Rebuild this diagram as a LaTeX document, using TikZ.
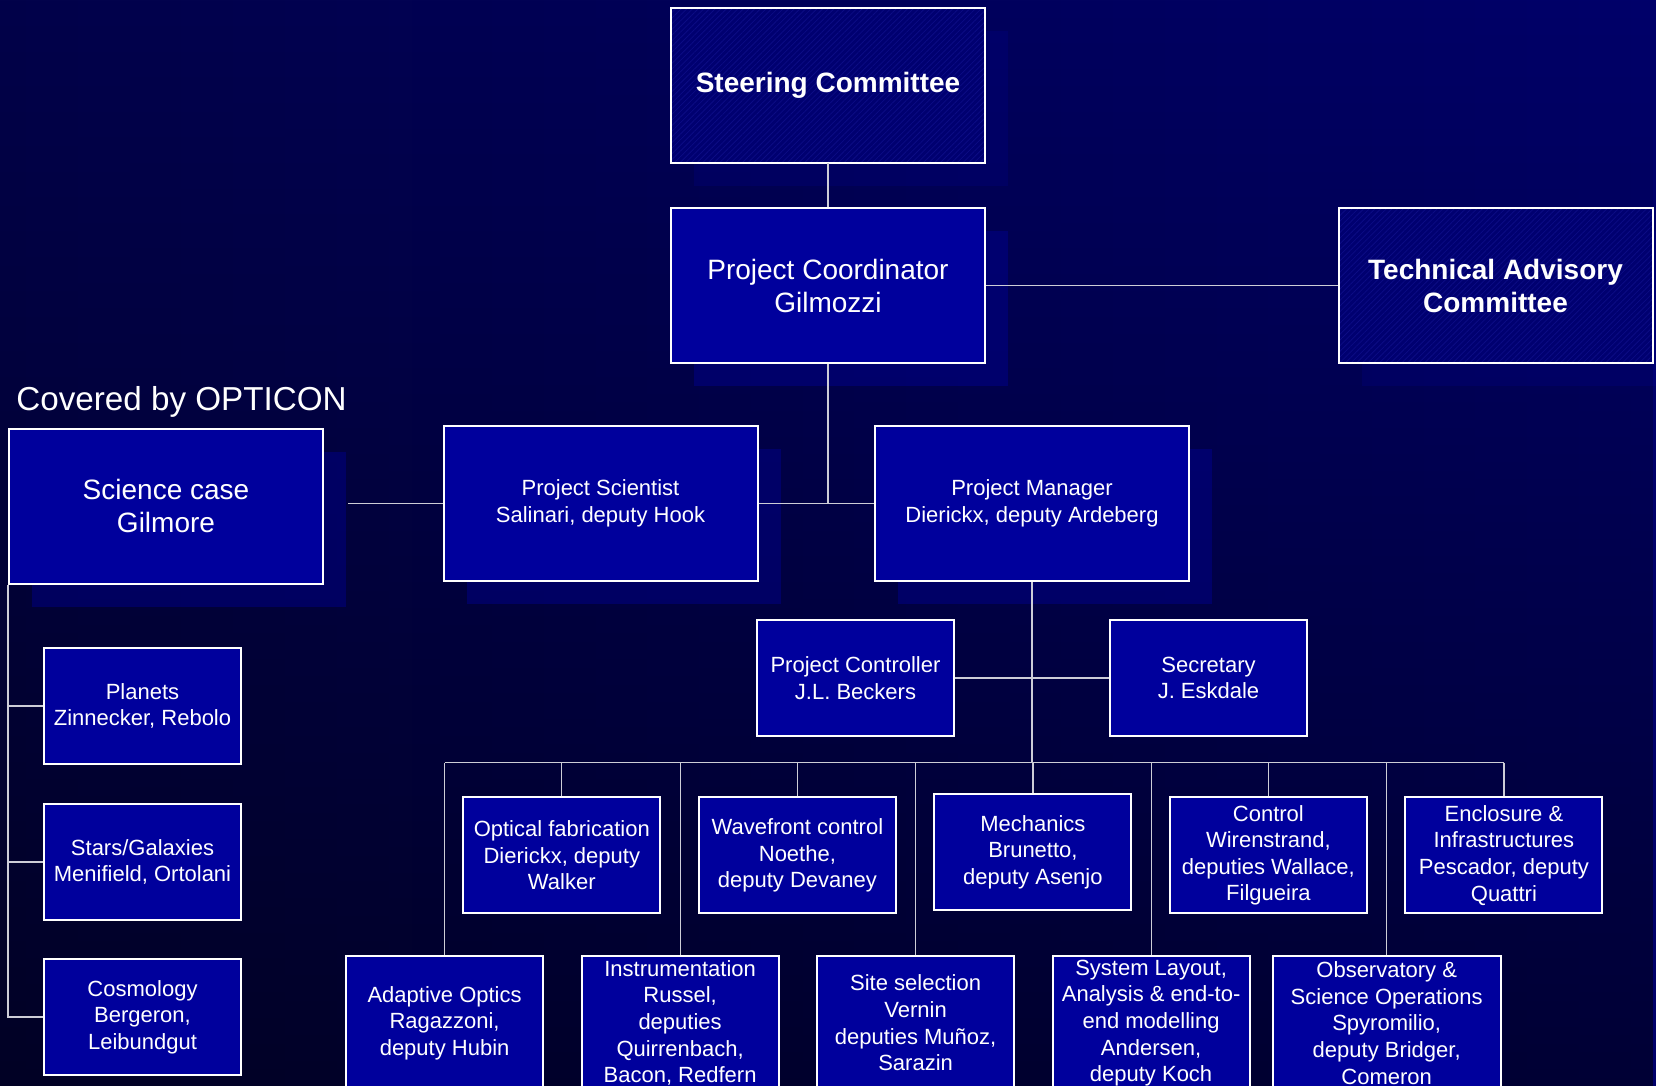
\documentclass[tikz,border=0pt]{standalone}
\usepackage{fontspec}
\setmainfont{Liberation Sans}
\usetikzlibrary{shadows,patterns.meta,fadings}

\definecolor{bgleft}{RGB}{2,2,74}
\definecolor{bgright}{RGB}{0,0,106}
\definecolor{boxblue}{RGB}{0,0,156}
\definecolor{comblue}{RGB}{0,0,112}
\definecolor{hatchblue}{RGB}{12,12,132}
\definecolor{linegray}{RGB}{205,205,215}

\tikzset{
  box/.style={draw=white, line width=1pt, fill=boxblue, text=white, align=center,
    inner sep=0pt, font=\fontsize{11}{13.3}\selectfont},
  bigbox/.style={box, minimum width=157pt, minimum height=77.5pt},
  smallbox/.style={box, minimum width=98.5pt, minimum height=58pt},
  lowbox/.style={box, minimum width=98.5pt, minimum height=67pt},
  bigtext/.style={font=\fontsize{14}{16.5}\selectfont},
  committee/.style={bigbox, font=\bfseries\fontsize{14}{16.5}\selectfont,
    preaction={fill=comblue}, pattern color=hatchblue,
    pattern={Lines[angle=45,distance=2pt,line width=0.4pt]}},
  shadowed/.style={drop shadow={shadow xshift=11.5pt, shadow yshift=-11.5pt,
    fill=boxblue, opacity=#1}},
  shadowed/.default=0.4,
  link/.style={draw=linegray, line width=0.6pt}
}

\begin{document}
\begin{tikzpicture}[x=0.5pt, y=-0.5pt]
  \clip (0,0) rectangle (1656,1086);
  \shade[left color=bgleft, right color=bgright] (0,0) rectangle (1656,1086);
  \fill[black, opacity=0.5, path fading=north] (0,0) rectangle (1656,1086);

  % top of the tree
  \node[shadowed=0.2, committee] (sc) at (828,85.5) {Steering Committee};
  \node[shadowed, bigbox, bigtext] (pc) at (828,285.5) {Project Coordinator\\Gilmozzi};
  \node[shadowed=0.2, committee] (tac) at (1495.5,285.5) {Technical Advisory\\Committee};

  \node[text=white, anchor=west, inner sep=0pt, font=\fontsize{16.6}{19}\selectfont] (cov) at (16,402) {Covered by OPTICON};
  \node[shadowed, bigbox, bigtext] (sci) at (166,506) {Science case\\Gilmore};
  \node[shadowed, bigbox] (ps) at (600.5,503.5) {Project Scientist\\Salinari, deputy Hook};
  \node[shadowed, bigbox] (pm) at (1032,503.5) {Project Manager\\Dierickx, deputy Ardeberg};

  \node[smallbox] (ctl) at (855.5,678) {Project Controller\\J.L. Beckers};
  \node[smallbox] (sec) at (1208.5,678) {Secretary\\J. Eskdale};

  % science case
  \node[smallbox] (pla) at (142.5,706) {Planets\\Zinnecker, Rebolo};
  \node[smallbox] (sta) at (142.5,862) {Stars/Galaxies\\Menifield, Ortolani};
  \node[smallbox] (cosmo) at (142.5,1017) {Cosmology\\Bergeron,\\Leibundgut};

  % work packages
  \node[smallbox] (opt) at (561.8,855.4) {Optical fabrication\\Dierickx, deputy\\Walker};
  \node[smallbox] (wfc) at (797.4,855.4) {Wavefront control\\Noethe,\\deputy Devaney};
  \node[smallbox] (mec) at (1032.9,852.3) {Mechanics\\Brunetto,\\deputy Asenjo};
  \node[smallbox] (con) at (1268.4,855.4) {Control\\Wirenstrand,\\deputies Wallace,\\Filgueira};
  \node[smallbox] (enc) at (1503.9,855.4) {Enclosure \&\\Infrastructures\\Pescador, deputy\\Quattri};

  \node[lowbox] (ao) at (444.6,1023) {Adaptive Optics\\Ragazzoni,\\deputy Hubin};
  \node[lowbox] (ins) at (680.1,1023) {Instrumentation\\Russel,\\deputies\\Quirrenbach,\\Bacon, Redfern};
  \node[lowbox] (site) at (915.6,1023) {Site selection\\Vernin\\deputies Muñoz,\\Sarazin};
  \node[lowbox] (sys) at (1151.1,1023) {System Layout,\\Analysis \& end-to-\\end modelling\\Andersen,\\deputy Koch};
  \node[lowbox, minimum width=114pt] (obs) at (1386.7,1023) {Observatory \&\\Science Operations\\Spyromilio,\\deputy Bridger,\\Comeron};

  \coordinate (scitip) at ([xshift=12pt]sci.east);
  \coordinate (bus) at (444.6,762.5);
  \coordinate (busr) at (1503.9,762.5);

  % connectors
  \draw[link] (sc.south) -- (pc.north);
  \draw[link] (pc.east) -- (tac.west);
  \draw[link] (pc.south) -- (pc.south |- ps.east);
  \draw[link] (ps.east) -- (pm.west);
  \draw[link] (ps.west) -- (ps.west -| scitip);
  \draw[link] (pm.south) -- (pm.south |- bus);
  \draw[link] (ctl.east) -- (sec.west);
  \draw[link] (bus) -- (busr);
  \foreach \n in {opt,wfc,mec,con,enc,ao,ins,site,sys,obs}
    \draw[link] (\n.north) -- (\n.north |- bus);
  \foreach \n in {pla,sta,cosmo}
    \draw[link] (sci.south west) |- (\n.west);
\end{tikzpicture}
\end{document}
